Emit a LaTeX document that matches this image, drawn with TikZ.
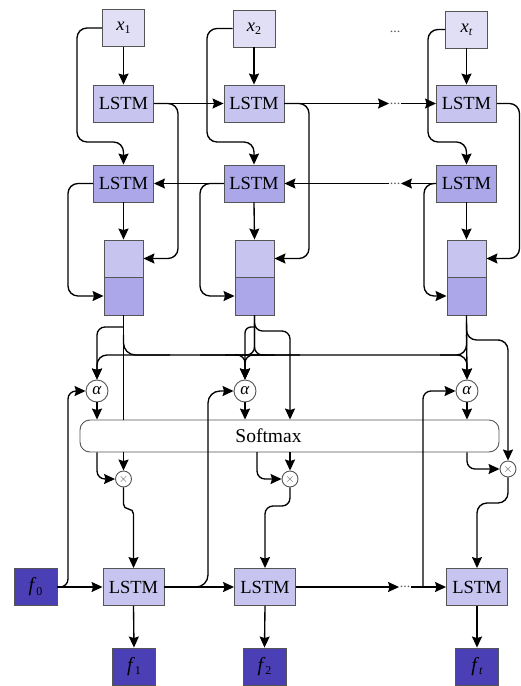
\documentclass[tikz,border=0pt]{standalone}
\usepackage{fontspec}
\setmainfont{Liberation Serif}
\usetikzlibrary{arrows.meta}
\definecolor{xc}{HTML}{E1DFF5}
\definecolor{uc}{HTML}{C7C5EF}
\definecolor{bc}{HTML}{ABA7E8}
\definecolor{fc}{HTML}{4A3FB4}
\definecolor{bd}{HTML}{555555}
\newcommand\mysub[1]{\raisebox{-0.35ex}{\fontsize{12}{12}\selectfont #1}}
\begin{document}
\begin{tikzpicture}[x=1pt,y=-1pt,
  font=\fontsize{18.5}{20}\selectfont,
  blk/.style={draw=bd, line width=0.9pt, inner sep=0pt, minimum height=37pt},
  xbox/.style={blk, fill=xc, minimum width=42pt},
  ubox/.style={blk, fill=uc, minimum width=60pt},
  lbox/.style={blk, fill=bc, minimum width=60pt},
  dbox/.style={blk, fill=uc, minimum width=61pt},
  stop/.style={blk, fill=uc, minimum width=39pt},
  sbot/.style={blk, fill=bc, minimum width=39pt, minimum height=38pt},
  fbox/.style={blk, fill=fc, minimum width=43pt, font=\fontsize{20}{20}\selectfont},
  acirc/.style={circle, draw=bd, line width=0.9pt, fill=white, minimum size=22pt, inner sep=0pt, font=\fontsize{17}{17}\selectfont},
  mcirc/.style={circle, draw=bd, line width=0.9pt, fill=white, minimum size=16pt, inner sep=0pt, font=\fontsize{13}{13}\selectfont, text=bd},
  dotnode/.style={inner sep=0.5pt, text=gray!70!black, font=\fontsize{14}{14}\selectfont},
  ln/.style={line width=1.35pt},
  arr/.style={ln, -{Stealth[length=11pt,width=10pt,inset=1.5pt]}},
]
\useasboundingbox (0,0) rectangle (521,686);

% top inputs
\node[xbox] (x1) at (123.5,28) {\textit{x}\mysub{1}};
\node[xbox] (x2) at (254,28.5) {\textit{x}\mysub{2}};
\node[xbox] (xt) at (466.5,29.5) {\textit{x}\mysub{\textit{t}}};
\node[dotnode] (dTop) at (395,32) {...};

% forward LSTMs
\node[ubox] (uL1) at (123.5,103.5) {LSTM};
\node[ubox] (uL2) at (254,103.5) {LSTM};
\node[ubox] (uLt) at (466.5,103.5) {LSTM};
\node[dotnode] (dU) at (395,103.5) {...};

% backward LSTMs
\node[lbox] (bL1) at (123.5,183.5) {LSTM};
\node[lbox] (bL2) at (254,183.5) {LSTM};
\node[lbox] (bLt) at (466.5,183.5) {LSTM};
\node[dotnode] (dB) at (395,183.5) {...};

% stacked states
\node[stop] (sT1) at (123.5,258.5) {};
\node[sbot] (sB1) at (123.5,296) {};
\node[stop] (sT2) at (254.5,258.5) {};
\node[sbot] (sB2) at (254.5,296) {};
\node[stop] (sTt) at (466.5,258.5) {};
\node[sbot] (sBt) at (466.5,296) {};

% attention
\node[acirc] (a1) at (97,391) {\textit{α}};
\node[acirc] (a2) at (245,391) {\textit{α}};
\node[acirc] (at) at (467,391) {\textit{α}};
\node[draw=bd, line width=0.9pt, rounded corners=10pt, minimum width=419pt, minimum height=32pt, inner sep=0pt,
      font=\fontsize{19.5}{20}\selectfont] (sm) at (289.5,436) {\hspace*{-42pt}Softmax};
\node[mcirc] (m1) at (123.5,479) {$\times$};
\node[mcirc] (m2) at (290,479) {$\times$};
\node[mcirc] (mt) at (508,469) {$\times$};

% decoder
\node[fbox] (f0) at (35.5,587) {\textit{f}\mysub{0}};
\node[dbox] (dL1) at (133.5,587) {LSTM};
\node[dbox] (dL2) at (265,587) {LSTM};
\node[dbox] (dLt) at (477,587) {LSTM};
\node[dotnode] (dD) at (405,587) {...};
\node[fbox] (f1) at (134,666.5) {\textit{f}\mysub{1}};
\node[fbox] (f2) at (264.5,666.5) {\textit{f}\mysub{2}};
\node[fbox] (ft) at (477,666.5) {\textit{f}\mysub{\textit{t}}};

% ---------- connectors: encoder ----------
\draw[arr] (x1.south) -- (uL1.north);
\draw[arr] (x2.south) -- (uL2.north);
\draw[arr] (xt.south) -- (uLt.north);
\draw[arr, rounded corners=10pt] (x1.west) -| (77,142) -| (bL1.north);
\draw[arr, rounded corners=10pt] (x2.west) -| (207,142) -| (bL2.north);
\draw[arr, rounded corners=10pt] (xt.west) -| (428,142) -| (bLt.north);

\draw[arr] (uL1.east) -- (uL2.west);
\draw[arr] (uL2.east) -- (dU.west);
\draw[arr] (dU.east) -- (uLt.west);
\draw[arr] (bLt.west) -- (dB.east);
\draw[arr] (dB.west) -- (bL2.east);
\draw[arr] (bL2.west) -- (bL1.east);

\draw[arr] (bL1.south) -- (sT1.north);
\draw[arr] (bL2.south) -- (sT2.north);
\draw[arr] (bLt.south) -- (sTt.north);

\draw[arr, rounded corners=10pt] (uL1.east) -| (178,258.5) -- (sT1.east);
\draw[arr, rounded corners=10pt] (uL2.east) -| (309,258.5) -- (sT2.east);
\draw[arr, rounded corners=10pt] (uLt.east) -| (519.5,258.5) -- (sTt.east);

\draw[arr, rounded corners=10pt] (bL1.west) -| (68,296) -- (sB1.west);
\draw[arr, rounded corners=10pt] (bL2.west) -| (200,296) -- (sB2.west);
\draw[arr, rounded corners=10pt] (bLt.west) -| (424,296) -- (sBt.west);

% ---------- attention bus ----------
\draw[ln] (sB1.south) -- (sB1.south |- sm.north);
\draw[arr, rounded corners=8pt] (123.5,327) -| (a1.north);
\draw[ln, rounded corners=12pt] (123.5,335) |- (170,355);
\draw[arr, rounded corners=10pt] (300,355) -| (a1.north);
\draw[arr, rounded corners=10pt] (200,355) -| (at.north);
\draw[arr, rounded corners=8pt] (225,355) -| (a2.north);
\draw[arr, rounded corners=8pt] (265,355) -| (a2.north);

\draw[ln, rounded corners=8pt] (sB2.south) |- (235,355);
\draw[ln, rounded corners=8pt] (sB2.south) |- (275,355);
\draw[arr, rounded corners=6pt] (254.5,327) -| (a2.north);
\draw[arr, rounded corners=8pt] (254.5,327) -- (254.5,331) -| (m2 |- sm.north);

\draw[arr] (sBt.south) -- (at.north);
\draw[ln, rounded corners=10pt] (466.5,335) |- (440,355);
\draw[arr, rounded corners=10pt] (466.5,322) |- (490,340) -| (mt.north);

\draw[arr] (a1.south) -- (a1 |- sm.north);
\draw[arr] (a2.south) -- (a2 |- sm.north);
\draw[arr] (at.south) -- (at |- sm.north);

\draw[arr] (m1 |- sm.south) -- (m1.north);
\draw[arr, rounded corners=8pt] (a1 |- sm.south) |- (m1.west);
\draw[arr] (m2 |- sm.south) -- (m2.north);
\draw[arr, rounded corners=8pt] (257,452) |- (m2.west);
\draw[arr, rounded corners=8pt] (at |- sm.south) |- (mt.west);

% ---------- decoder ----------
\draw[arr, rounded corners=5pt] (m1.south) -- (123.5,509) -- (133.5,509) -- (dL1.north);
\draw[arr, rounded corners=8pt] (m2.south) -- (290,506) -- (265,506) -- (dL2.north);
\draw[arr, rounded corners=10pt] (mt.south) -- (508,503) -- (477,503) -- (dLt.north);

\draw[arr] (f0.east) -- (dL1.west);
\draw[arr] (dL1.east) -- (dL2.west);
\draw[arr] (dL2.east) -- (dD.west);
\draw[arr] (dD.east) -- (dLt.west);
\draw[arr, rounded corners=8pt] (f0.east) -| (68,391) -- (a1.west);
\draw[arr, rounded corners=12pt] (dL1.east) -| (208,391) -- (a2.west);
\draw[arr, rounded corners=8pt] (423,587) |- (at.west);

\draw[arr] (dL1.south) -- (f1.north);
\draw[arr] (dL2.south) -- (f2.north);
\draw[arr] (dLt.south) -- (ft.north);
\end{tikzpicture}
\end{document}
